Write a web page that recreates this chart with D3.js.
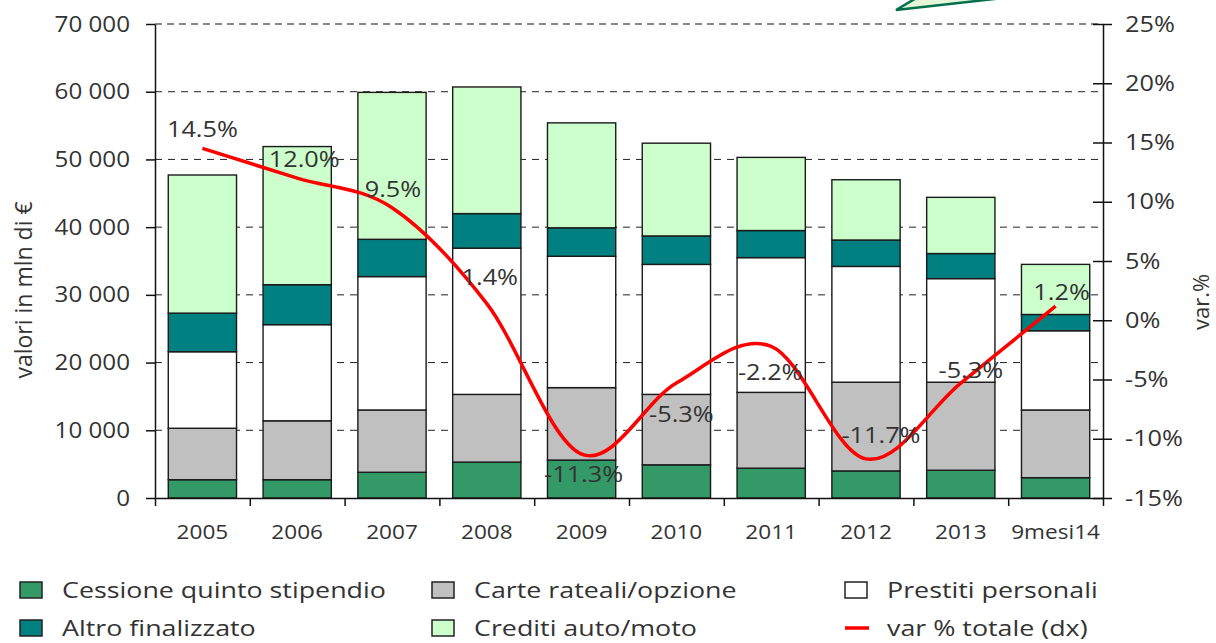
<!DOCTYPE html>
<html>
<head>
<meta charset="utf-8">
<script src="https://cdn.jsdelivr.net/npm/d3@7"></script>
<style>
  body { margin: 0; background: #fff; }
  text { font-family: "Open Sans", sans-serif; fill: #333; }
</style>
</head>
<body>
<svg id="chart" width="1216" height="643"></svg>
<script>
// values in mln of euro
const categories = ['2005', '2006', '2007', '2008', '2009', '2010', '2011', '2012', '2013', '9mesi14'];
const cessione = [2700, 2700, 3800, 5300, 5600, 4900, 4400, 4000, 4100, 3000];
const carte    = [7600, 8700, 9200, 10000, 10700, 10400, 11200, 13100, 13000, 10000];
const prestiti = [11300, 14200, 19700, 21600, 19400, 19200, 19900, 17100, 15300, 11700];
const altro    = [5700, 5900, 5500, 5100, 4200, 4200, 4000, 3900, 3700, 2400];
const crediti  = [20400, 20400, 21700, 18700, 15500, 13700, 10800, 8900, 8300, 7400];
const varTot   = [14.5, 12.0, 9.5, 1.4, -11.3, -5.3, -2.2, -11.7, -5.3, 1.2];

const seriesKeys  = ['cessione', 'carte', 'prestiti', 'altro', 'crediti'];
const seriesNames = ['Cessione quinto stipendio', 'Carte rateali/opzione', 'Prestiti personali', 'Altro finalizzato', 'Crediti auto/moto'];
const lineName = 'var % totale (dx)';
const leftTicks  = [0, 10000, 20000, 30000, 40000, 50000, 60000, 70000];
const rightTicks = [-15, -10, -5, 0, 5, 10, 15, 20, 25];

const colors = {
    cessione: '#339966',
    carte: '#c0c0c0',
    prestiti: '#ffffff',
    altro: '#008080',
    crediti: '#ccffcc',
    line: '#ff0000'
};

// where each % label sits relative to its point (dx, dy)
const labelShift = [[0, -11], [7, -11], [1, -11], [3, -19], [2, 28], [5, 39], [-1, 34], [15, -16], [10, -5], [6, -6]];

const svg = d3.select('#chart');
const box = { left: 155, right: 1103, top: 24, bottom: 498 };

const x = d3.scaleBand().domain(categories).range([box.left, box.right])
    .paddingInner(0.28).paddingOuter(0.14);
const y = d3.scaleLinear().domain([0, 70000]).range([box.bottom, box.top]);
const yr = d3.scaleLinear().domain([-15, 25]).range([box.bottom, box.top]);

// little callout arrow cut by the top edge
svg.append('path')
    .attr('d', 'M896,10 L918,-3 L1012,-3 Z')
    .attr('fill', '#e4f5d8')
    .attr('stroke', '#00704a')
    .attr('stroke-width', 2.5);

// grid
svg.append('g').selectAll('line')
    .data(leftTicks.filter(t => t > 0 && t < 70000))
    .join('line')
    .attr('x1', box.left).attr('x2', box.right)
    .attr('y1', d => y(d)).attr('y2', d => y(d))
    .attr('stroke', '#222').attr('stroke-width', 1)
    .attr('stroke-dasharray', '7,6');
svg.append('line')
    .attr('x1', box.left).attr('x2', box.right)
    .attr('y1', y(70000)).attr('y2', y(70000))
    .attr('stroke', '#888').attr('stroke-width', 2)
    .attr('stroke-dasharray', '7,5');

// stacked bars
const rows = categories.map((c, i) => ({
    cat: c,
    cessione: cessione[i],
    carte: carte[i],
    prestiti: prestiti[i],
    altro: altro[i],
    crediti: crediti[i]
}));
const stacked = d3.stack().keys(seriesKeys)(rows);

svg.append('g').selectAll('g')
    .data(stacked)
    .join('g')
    .attr('fill', d => colors[d.key])
    .selectAll('rect')
    .data(d => d)
    .join('rect')
    .attr('x', d => x(d.data.cat))
    .attr('width', x.bandwidth())
    .attr('y', d => y(d[1]))
    .attr('height', d => y(d[0]) - y(d[1]))
    .attr('stroke', '#1a1a1a')
    .attr('stroke-width', 1.4);

// axes
const fmtThousands = d => d3.format(',')(d).replace(/,/g, ' ');

const leftAxis = svg.append('g')
    .attr('transform', 'translate(' + box.left + ',0)')
    .call(d3.axisLeft(y).tickValues(leftTicks).tickSize(9).tickSizeOuter(0).tickFormat(fmtThousands));
leftAxis.selectAll('text')
    .attr('font-size', 22)
    .attr('x', -25 / 1.1)
    .attr('transform', 'scale(1.1,1)');

const rightAxis = svg.append('g')
    .attr('transform', 'translate(' + box.right + ',0)')
    .call(d3.axisRight(yr).tickValues(rightTicks).tickSize(9).tickSizeOuter(0).tickFormat(d => d + '%'));
rightAxis.selectAll('.tick line').attr('x1', -10);
rightAxis.selectAll('text')
    .attr('font-size', 22)
    .attr('x', 22 / 1.15)
    .attr('transform', 'scale(1.15,1)');

// category boundary ticks
const bounds = d3.scaleLinear().domain([0, categories.length]).range([box.left, box.right]);
svg.append('g')
    .attr('transform', 'translate(0,' + box.bottom + ')')
    .call(d3.axisBottom(bounds).tickValues(d3.range(categories.length + 1)).tickSize(8).tickSizeOuter(0).tickFormat(''));

const bottomAxis = svg.append('g')
    .attr('transform', 'translate(0,' + box.bottom + ')')
    .call(d3.axisBottom(x).tickSize(0).tickPadding(27));
bottomAxis.select('.domain').remove();
bottomAxis.selectAll('text')
    .attr('font-size', 20)
    .attr('transform', 'scale(1.13,1)');

svg.selectAll('.domain, .tick line').attr('stroke', '#111').attr('stroke-width', 1.5);
svg.selectAll('.tick text').style('fill', '#333');

// line (smoothed, like the spreadsheet)
const cx = i => x(categories[i]) + x.bandwidth() / 2;
const line = d3.line()
    .x((d, i) => cx(i))
    .y(d => yr(d))
    .curve(d3.curveCardinal.tension(0));

svg.append('path')
    .datum(varTot)
    .attr('d', line)
    .attr('fill', 'none')
    .attr('stroke', colors.line)
    .attr('stroke-width', 3.5)
    .attr('stroke-linejoin', 'round');

svg.append('g').selectAll('text')
    .data(varTot)
    .join('text')
    .attr('transform', (d, i) => 'translate(' + (cx(i) + labelShift[i][0]) + ',' + (yr(d) + labelShift[i][1]) + ') scale(1.15,1)')
    .attr('text-anchor', 'middle')
    .attr('font-size', 22)
    .text(d => d.toFixed(1) + '%');

// axis titles
svg.append('text')
    .attr('transform', 'translate(32,290) rotate(-90)')
    .attr('text-anchor', 'middle')
    .attr('font-size', 23)
    .text('valori in mln di €');

svg.append('text')
    .attr('transform', 'translate(1209,302) rotate(-90)')
    .attr('text-anchor', 'middle')
    .attr('font-size', 22)
    .text('var.%');

// legend, three columns by two rows
const legendCols = [20, 432, 845];
const legendRows = [582, 620];
const legendItems = seriesKeys.map((k, i) => ({ key: k, name: seriesNames[i], type: 'box' }))
    .concat([{ key: 'line', name: lineName, type: 'line' }]);

const legend = svg.append('g');
legendItems.forEach((item, n) => {
    const lx = legendCols[n % 3];
    const ly = legendRows[Math.floor(n / 3)];
    const g = legend.append('g').attr('transform', 'translate(' + lx + ',' + ly + ')');
    if (item.type === 'box') {
        g.append('rect')
            .attr('width', 22).attr('height', 16)
            .attr('fill', colors[item.key])
            .attr('stroke', '#222').attr('stroke-width', 1.5);
    } else {
        g.append('line')
            .attr('x1', 0).attr('x2', 24)
            .attr('y1', 8).attr('y2', 8)
            .attr('stroke', colors.line).attr('stroke-width', 3.5);
    }
    g.append('text')
        .attr('transform', 'translate(42,16) scale(1.22,1)')
        .attr('font-size', 22)
        .text(item.name);
});
</script>
</body>
</html>
